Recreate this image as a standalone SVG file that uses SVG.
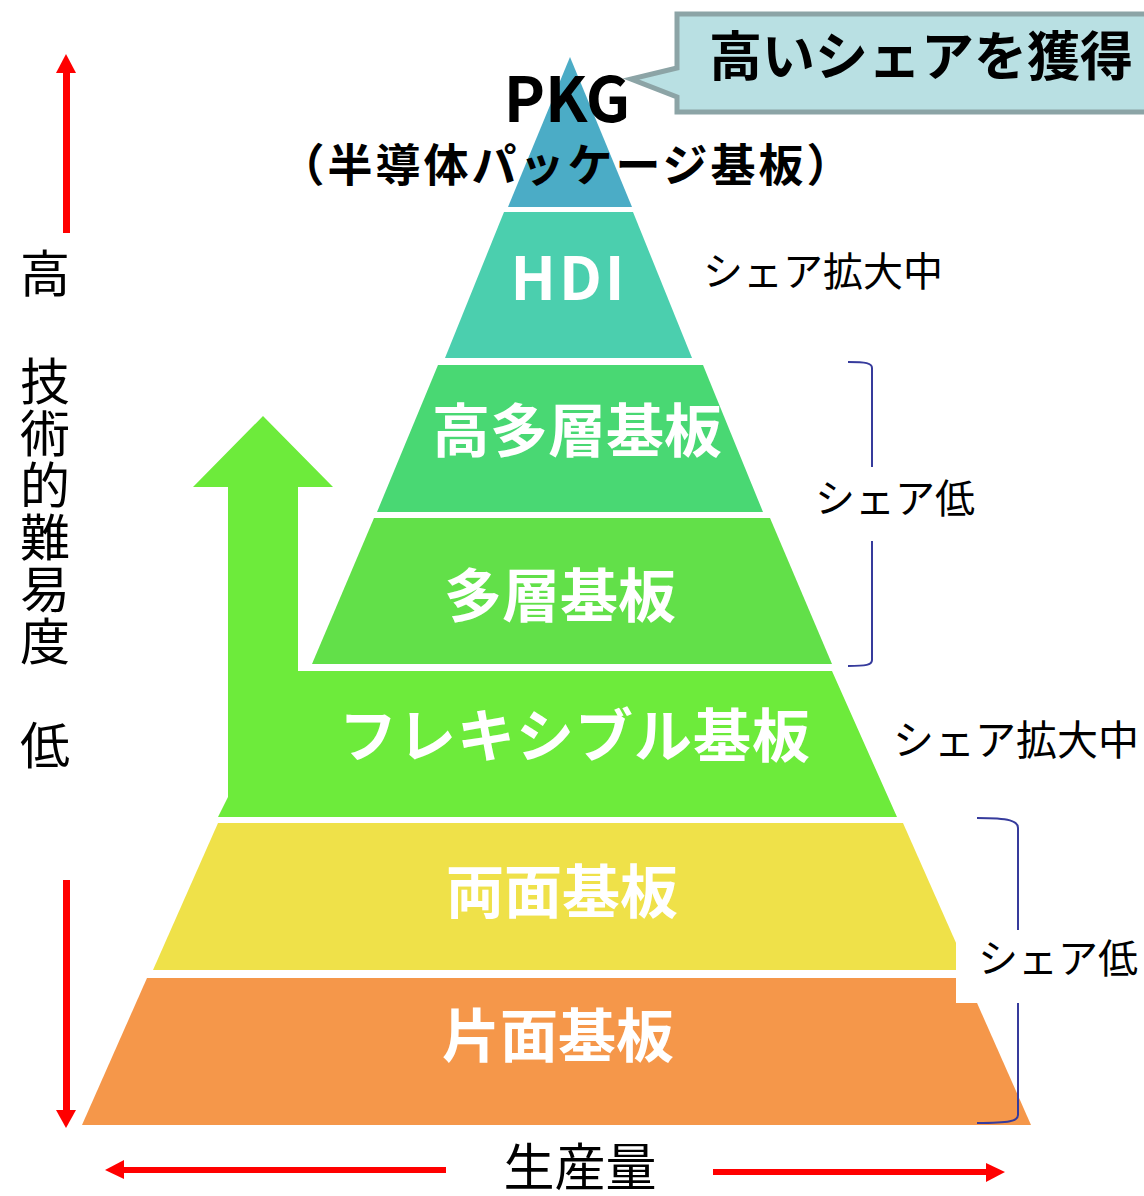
<svg xmlns="http://www.w3.org/2000/svg" width="1144" height="1196" viewBox="0 0 1144 1196">
<defs>
<style>
.lbl{font-family:"Noto Sans CJK JP","Noto Sans",sans-serif;font-weight:700;fill:#ffffff;font-size:58px;text-anchor:middle}
.side{font-family:"Noto Sans CJK JP","Noto Sans",sans-serif;font-weight:400;fill:#000000;font-size:40px}
.axis{font-family:"Noto Sans CJK JP","Noto Sans",sans-serif;font-weight:400;fill:#000000;font-size:50px;text-anchor:middle}
.brace{fill:none;stroke:#363b9c;stroke-width:2}
.red{fill:#ff0000}
</style>
</defs>
<rect width="1144" height="1196" fill="#ffffff"/>

<g id="layer-flex">
<polygon points="263,416 333,487 298,487 298,671 832,671 897,817 218,817 228,797 228,487 193,487" fill="#6deb3b"/>
<text class="lbl" x="575" y="757" style="letter-spacing:1px">フレキシブル基板</text>
</g>
<g id="layer-pkg">
<polygon points="570,57 632,207 508,207" fill="#4bacc6"/>
</g>
<g id="layer-hdi">
<polygon points="504,212 633,212 692,358 445,358" fill="#4bcfae"/>
<text class="lbl" x="569" y="300" style="font-size:60px;letter-spacing:3px">HDI</text>
</g>
<g id="layer-high-multi">
<polygon points="438,365 703,365 763,512 377,512" fill="#49d873"/>
<text class="lbl" x="577" y="452">高多層基板</text>
</g>
<g id="layer-multi">
<polygon points="374,518 770,518 832,664 312,664" fill="#62e049"/>
<text class="lbl" x="560" y="617">多層基板</text>
</g>
<g id="layer-double">
<polygon points="218,823 903,823 968,970 153,970" fill="#efe149"/>
<text class="lbl" x="562" y="913">両面基板</text>
</g>
<g id="layer-single">
<polygon points="147,978 966,978 1031,1125 82,1125" fill="#f5974a"/>
<text class="lbl" x="558" y="1057">片面基板</text>
</g>

<g id="pkg-label">
<text x="567" y="122" style="font-family:'Noto Sans CJK JP','Noto Sans',sans-serif;font-weight:700;font-size:62px;text-anchor:middle;fill:#000">PKG</text>
<text x="567" y="182" style="font-family:'Noto Sans CJK JP','Noto Sans',sans-serif;font-weight:700;font-size:45px;letter-spacing:3px;text-anchor:middle;fill:#000">（半導体パッケージ基板）</text>
</g>

<g id="callout">
<path d="M677,14 H1150 V112 H677 V97 L631,79 L677,68 Z" fill="#b9e0e3" stroke="#8ca4a6" stroke-width="5" stroke-linejoin="miter"/>
<text x="921" y="76" style="font-family:'Noto Sans CJK JP','Noto Sans',sans-serif;font-weight:700;font-size:53px;text-anchor:middle;fill:#000">高いシェアを獲得</text>
</g>

<g id="share-labels">
<text class="side" x="703" y="286">シェア拡大中</text>
<text class="side" x="815" y="513">シェア低</text>
<text class="side" x="893" y="755" style="font-size:41px">シェア拡大中</text>
<rect id="label-bg" x="956" y="930" width="188" height="73" fill="#ffffff"/>
<text class="side" x="978" y="973">シェア低</text>
</g>

<g id="connectors">
<path class="brace" d="M848,362 C866,362 872,363 872,368 V467 M872,541 V660 C872,665 866,666 848,666"/>
<path class="brace" d="M977,818 C1010,818 1018,821 1018,828 V930 M1018,1003 V1115 C1018,1121 1010,1123 977,1123"/>
<rect class="red" x="63" y="72" width="7" height="161"/>
<polygon class="red" points="66,54 76,73 56,73"/>
<rect class="red" x="63" y="880" width="7" height="231"/>
<polygon class="red" points="66,1128 76,1110 56,1110"/>
<rect class="red" x="123" y="1167" width="323" height="6"/>
<polygon class="red" points="105,1170 124,1160 124,1179"/>
<rect class="red" x="713" y="1169" width="274" height="6"/>
<polygon class="red" points="1005,1172 986,1163 986,1182"/>
</g>

<g id="axis-labels">
<text class="axis" x="45" y="292">高</text>
<text class="axis"><tspan x="45" y="400">技</tspan><tspan x="45" y="452">術</tspan><tspan x="45" y="504">的</tspan><tspan x="45" y="556">難</tspan><tspan x="45" y="608">易</tspan><tspan x="45" y="660">度</tspan></text>
<text class="axis" x="45" y="764">低</text>
<text class="axis" x="580" y="1186" style="font-size:51px">生産量</text>
</g>
</svg>
